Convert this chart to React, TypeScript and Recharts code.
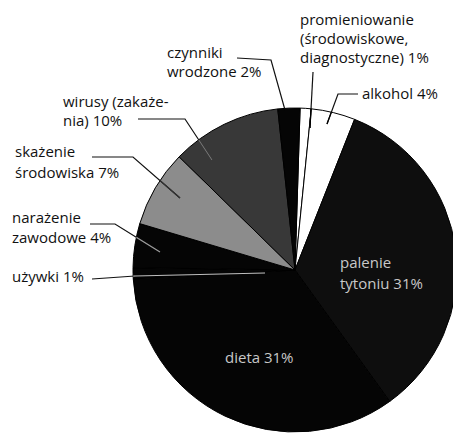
import { Cell, Pie, PieChart } from 'recharts'

// slices clockwise from the top
const CAUSES = [
  'promieniowanie', 'alkohol', 'palenie tytoniu', 'dieta', 'używki',
  'narażenie zawodowe', 'skażenie środowiska', 'wirusy', 'czynniki wrodzone',
]
const PERCENTS = [1, 4, 31, 31, 1, 4, 7, 10, 2]
const LABEL_LINES = [
  ['promieniowanie', '(środowiskowe,', 'diagnostyczne) 1%'],
  ['alkohol 4%'],
  ['palenie', 'tytoniu 31%'],
  ['dieta 31%'],
  ['używki 1%'],
  ['narażenie', 'zawodowe 4%'],
  ['skażenie', 'środowiska 7%'],
  ['wirusy (zakaże-', 'nia) 10%'],
  ['czynniki', 'wrodzone 2%'],
]

const FILLS = ['#fff', '#fff', '#0e0e0e', '#050505', '#050505', '#050505', '#8c8c8c', '#383838', '#050505']

// label placement: text origin, line height, leader polyline, colour of leader inside the pie
const LAYOUT = [
  { x: 300, y: 25, lh: 19, lead: [[313, 72], [310, 128]], inner: '#000', color: '#111' },
  { x: 362, y: 99, lh: 19, lead: [[358, 94], [338, 94], [327, 124]], inner: '#000', color: '#111' },
  { x: 340, y: 268, lh: 21, lead: [], inner: '', color: '#c8c8c8' },
  { x: 225, y: 363, lh: 19, lead: [], inner: '', color: '#c8c8c8' },
  { x: 12, y: 282, lh: 19, lead: [[92, 279], [135, 276], [265, 273]], inner: '#bdbdbd', color: '#111' },
  { x: 12, y: 223, lh: 20, lead: [[90, 224], [115, 224], [160, 252]], inner: '#9a9a9a', color: '#111' },
  { x: 15, y: 157, lh: 21, lead: [[92, 157], [133, 157], [180, 198]], inner: '#333', color: '#111' },
  { x: 63, y: 107, lh: 19, lead: [[138, 119], [185, 119], [212, 160]], inner: '#777', color: '#111' },
  { x: 167, y: 58, lh: 19, lead: [[237, 58], [271, 60], [285, 110]], inner: '#000', color: '#111' },
]

const data = CAUSES.map((name, i) => ({ name, value: PERCENTS[i] }))

const FONT = '"Open Sans", sans-serif'

function renderLabel(props: any) {
  const { index, cx, cy, outerRadius } = props
  const l = LAYOUT[index]
  const pts = l.lead.map(p => p.join(',')).join(' ')
  const clipId = `pie-clip-${index}`
  return (
    <g key={`lbl-${index}`}>
      {l.lead.length > 0 && (
        <>
          <defs>
            <clipPath id={clipId}>
              <circle cx={cx} cy={cy} r={outerRadius} />
            </clipPath>
          </defs>
          <polyline points={pts} fill="none" stroke="#111" strokeWidth={1.2} />
          <polyline points={pts} fill="none" stroke={l.inner} strokeWidth={1.2} clipPath={`url(#${clipId})`} />
        </>
      )}
      <text x={l.x} y={l.y} fill={l.color} fontFamily={FONT} fontSize={15}>
        {LABEL_LINES[index].map((line, j) => (
          <tspan key={j} x={l.x} y={l.y + j * l.lh}>{line}</tspan>
        ))}
      </text>
    </g>
  )
}

export default function App() {
  return (
    <div style={{ position: 'absolute', left: 0, top: 0, background: '#fff' }}>
      <PieChart width={453} height={433} margin={{ top: 0, right: 0, bottom: 0, left: 0 }}>
        <Pie
          data={data}
          dataKey="value"
          cx={295}
          cy={270}
          outerRadius={162}
          startAngle={88.2}
          endAngle={-271.8}
          stroke="#000"
          strokeWidth={1}
          label={renderLabel}
          labelLine={false}
          isAnimationActive={false}
        >
          {data.map((d, i) => (
            <Cell key={d.name} fill={FILLS[i]} />
          ))}
        </Pie>
      </PieChart>
    </div>
  )
}
